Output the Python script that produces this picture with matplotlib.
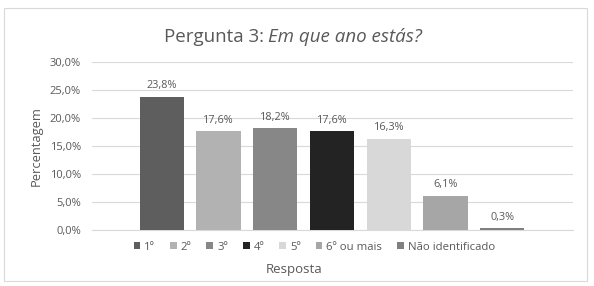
import matplotlib
matplotlib.use('Agg')
import matplotlib.pyplot as plt
from matplotlib.patches import Rectangle

# Data
categorias = ['1º', '2º', '3º', '4º', '5º', '6º ou mais', 'Não identificado']
percentagens = [23.8, 17.6, 18.2, 17.6, 16.3, 6.1, 0.3]
cores = ['#5e5e5e', '#b2b2b2', '#878787', '#232323', '#d8d8d8', '#a6a6a6', '#808080']
ticks_y = [0, 5, 10, 15, 20, 25, 30]

plt.rcParams['font.family'] = ['Open Sans', 'DejaVu Sans']
texto = '#595959'

fig = plt.figure(figsize=(5.94, 2.86), dpi=100)
ax = fig.add_axes([0.155, 0.196, 0.81, 0.587])

# Outer border of the chart
fig.patches.append(Rectangle((0.006, 0.018), 0.982, 0.955, transform=fig.transFigure,
                             fill=False, edgecolor='#d9d9d9', linewidth=0.8))

x = list(range(len(categorias)))
barras = ax.bar(x, percentagens, width=0.78, color=cores, label=categorias, zorder=3)

for xi, v in zip(x, percentagens):
    ax.annotate(f'{v:.1f}%'.replace('.', ','), (xi, v), xytext=(0, 4),
                textcoords='offset points', ha='center', va='bottom',
                fontsize=7.8, color=texto)

ax.set_xlim(-1.23, 7.25)
ax.set_ylim(0, 30)
ax.set_yticks(ticks_y)
ax.set_yticklabels([f'{t:.1f}%'.replace('.', ',') for t in ticks_y])
ax.set_xticks([])
ax.tick_params(axis='y', length=0, labelsize=8, labelcolor=texto, pad=8)
ax.grid(axis='y', color='#d9d9d9', linewidth=0.8, zorder=0)
for s in ['top', 'right', 'left']:
    ax.spines[s].set_visible(False)
ax.spines['bottom'].set_color('#d9d9d9')

ax.set_ylabel('Percentagem', fontsize=9.3, color=texto, labelpad=5)
fig.text(0.495, 0.057, 'Resposta', ha='center', va='center', fontsize=9.5, color=texto)

fig.text(0.452, 0.872, 'Pergunta 3: ', ha='right', va='center', fontsize=13.5, color=texto)
fig.text(0.452, 0.872, 'Em que ano estás?', ha='left', va='center', fontsize=13.5,
         color=texto, style='italic')

ax.legend(handles=barras, labels=categorias, loc='upper center', bbox_to_anchor=(0.462, -0.01),
          ncol=7, frameon=False, fontsize=8.2, labelcolor=texto, handlelength=0.6,
          handleheight=0.6, handletextpad=0.35, columnspacing=1.3)

fig.savefig('out.png', dpi=100, facecolor='white')
